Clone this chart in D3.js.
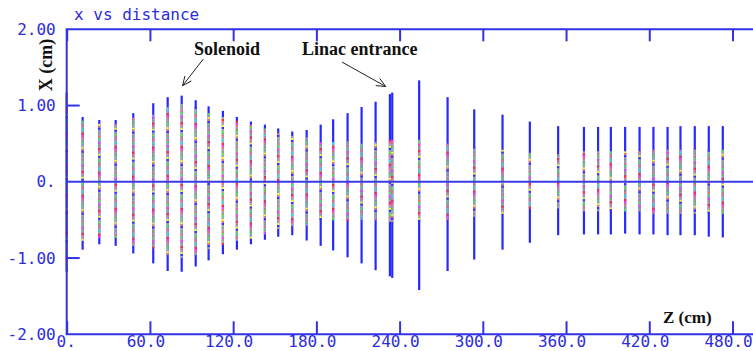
<!DOCTYPE html>
<html>
<head>
<meta charset="utf-8">
<script src="https://cdn.jsdelivr.net/npm/d3@7"></script>
<style>
  html, body { margin: 0; padding: 0; background: #ffffff; }
  svg { display: block; }
</style>
</head>
<body>
<svg id="chart" width="753" height="351"></svg>
<script>
// ---------------- data ----------------
const zPos = [0, 11.5, 23.5, 35.3, 48, 62.4, 72.8, 82.9, 93, 102.3, 112.6, 122.7, 132.8, 142.9, 152.5, 162.6, 173,
  183.1, 192.1, 202.5, 212.6, 222.7, 233, 234.7, 254.1, 274.6, 293.8, 314.2, 333.9, 354.3,
  372.9, 383.1, 392.3, 402.6, 413, 423, 433.2, 442.5, 452.8, 462.9, 473];
const xMax = [1.17, 0.85, 0.81, 0.81, 0.90, 1.03, 1.11, 1.13, 1.07, 0.99, 0.93, 0.85, 0.79, 0.75, 0.70, 0.66, 0.68,
  0.75, 0.82, 0.90, 0.98, 1.05, 1.15, 1.17, 1.33, 1.11, 0.95, 0.88, 0.79, 0.73,
  0.72, 0.72, 0.72, 0.72, 0.72, 0.72, 0.72, 0.73, 0.73, 0.73, 0.73];
const xMin = [-1.18, -0.89, -0.82, -0.84, -0.94, -1.07, -1.17, -1.18, -1.11, -1.03, -0.95, -0.89, -0.82, -0.76, -0.72, -0.70, -0.77,
  -0.84, -0.90, -0.99, -1.07, -1.16, -1.24, -1.26, -1.42, -1.17, -1.02, -0.89, -0.80, -0.70,
  -0.69, -0.69, -0.69, -0.68, -0.69, -0.69, -0.70, -0.70, -0.70, -0.72, -0.73];
// half-extent of the multi-coloured beam core
const xCore = [1.15, 0.80, 0.76, 0.76, 0.84, 0.88, 0.98, 1.02, 0.98, 0.90, 0.85, 0.80, 0.75, 0.70, 0.64, 0.60, 0.58,
  0.52, 0.52, 0.53, 0.50, 0.52, 0.55, 0.55, 0.55, 0.50, 0.46, 0.42, 0.38, 0.36,
  0.40, 0.40, 0.40, 0.40, 0.40, 0.42, 0.42, 0.42, 0.42, 0.42, 0.42];

const xTicks = [0, 60, 120, 180, 240, 300, 360, 420, 480];
const xTickLabels = ["0.", "60.0", "120.0", "180.0", "240.0", "300.0", "360.0", "420.0", "480.0"];
const yTicks = [2, 1, 0, -1, -2];
const yTickLabels = ["2.00", "1.00", "0.", "-1.00", "-2.00"];

const title = "x vs distance";
const xLabel = "Z (cm)";
const yLabel = "X (cm)";
const notes = [
  { text: "Solenoid", tx: 91.7, ty: 1.663, fx: 98.5, fy: 1.61, hx: 83.5, hy: 1.26 },
  { text: "Linac entrance", tx: 169.6, ty: 1.663, fx: 198.5, fy: 1.57, hx: 230, hy: 1.25 }
];

// colour texture for the particle core (hand-typed palette index sequence)
const palette = ["#ff40ff", "#ffff30", "#50f050", "#ff3030", "#a8a8a8", "#40e0e0", "#3434ff", "#f07878", "#98a878"];
const texture = [4, 7, 2, 4, 0, 8, 4, 3, 7, 4, 1, 6, 4, 2, 8, 7, 4, 5, 4, 3, 0, 7, 4, 8, 2, 4, 1, 7, 6, 4, 8];

// ---------------- drawing ----------------
const W = 753, H = 351;
const svg = d3.select("#chart");
const x = d3.scaleLinear().domain([0, 480]).range([66.7, 732.5]);
const y = d3.scaleLinear().domain([-2, 2]).range([334.3, 29.3]);

const axisColor = "#3232e6";
const textBlue = "#2c2cdc";
const mono = "'DejaVu Sans Mono', monospace";
const serif = "'Liberation Serif', 'Times New Roman', serif";

// beam lines
const beams = zPos.map((z, i) => ({ z, hi: xMax[i], lo: xMin[i], core: xCore[i], i }));
const gB = svg.append("g");
gB.selectAll("line.beam").data(beams).join("line")
  .attr("class", "beam")
  .attr("x1", d => x(d.z)).attr("x2", d => x(d.z))
  .attr("y1", d => y(d.hi)).attr("y2", d => y(d.lo))
  .attr("stroke", "#2828ff").attr("stroke-width", 2.2);

// coloured core segments
const seg = 2;
beams.forEach(d => {
  const top = y(Math.min(d.core, d.hi - 0.02));
  const bot = y(Math.max(-d.core, d.lo + 0.02));
  const n = Math.floor((bot - top) / seg);
  const segs = d3.range(n).map(j => ({ j, c: palette[texture[(j + d.i * 13) % texture.length]] }));
  gB.append("g").selectAll("line").data(segs).join("line")
    .attr("x1", x(d.z)).attr("x2", x(d.z))
    .attr("y1", s => top + s.j * seg).attr("y2", s => top + s.j * seg + seg)
    .attr("stroke", s => s.c).attr("stroke-width", 2.2);
});

// zero line
svg.append("line")
  .attr("x1", x(0)).attr("x2", W).attr("y1", y(0)).attr("y2", y(0))
  .attr("stroke", "#3a3ae6").attr("stroke-width", 2);

// frame
const frame = svg.append("g").attr("stroke", axisColor).attr("stroke-width", 2).attr("fill", "none");
frame.append("line").attr("x1", x(0)).attr("x2", x(0)).attr("y1", y(2)).attr("y2", y(-2));
frame.append("line").attr("x1", x(0) - 1).attr("x2", W).attr("y1", y(2)).attr("y2", y(2));
frame.append("line").attr("x1", x(0) - 1).attr("x2", W).attr("y1", y(-2)).attr("y2", y(-2));

// x axis (bottom) with inward ticks
const xAxisB = d3.axisBottom(x).tickValues(xTicks).tickSize(-13)
  .tickFormat((d, i) => xTickLabels[i]);
const gx = svg.append("g").attr("transform", `translate(0,${y(-2)})`).call(xAxisB);
gx.select(".domain").remove();
gx.selectAll(".tick line").attr("stroke", axisColor).attr("stroke-width", 2);
gx.selectAll(".tick text")
  .attr("fill", textBlue).attr("font-family", mono).attr("font-size", "16px")
  .attr("x", (d, i) => i === 0 ? -1 : -4.5).attr("y", 0).attr("dy", "13px");

// x axis (top) ticks
const xAxisT = d3.axisTop(x).tickValues(xTicks).tickSize(-12).tickFormat("");
const gxt = svg.append("g").attr("transform", `translate(0,${y(2)})`).call(xAxisT);
gxt.select(".domain").remove();
gxt.selectAll(".tick line").attr("stroke", axisColor).attr("stroke-width", 2);

// y axis
const yAxis = d3.axisLeft(y).tickValues(yTicks).tickSize(0).tickPadding(11)
  .tickFormat((d, i) => yTickLabels[i]);
const gy = svg.append("g").attr("transform", `translate(${x(0)},0)`).call(yAxis);
gy.select(".domain").remove();
gy.selectAll(".tick text")
  .attr("fill", textBlue).attr("font-family", mono).attr("font-size", "16px");
// inward ticks at +/-1
svg.append("g").selectAll("line").data([1, -1]).join("line")
  .attr("x1", x(0)).attr("x2", x(0) + 13).attr("y1", d => y(d)).attr("y2", d => y(d))
  .attr("stroke", axisColor).attr("stroke-width", 2);

// title
svg.append("text").attr("x", 74).attr("y", 20)
  .attr("fill", textBlue).attr("font-family", mono).attr("font-size", "16px").text(title);

// axis labels
svg.append("text").attr("transform", `translate(52,65) rotate(-90)`)
  .attr("text-anchor", "middle").attr("font-family", serif).attr("font-weight", "bold")
  .attr("font-size", "18px").attr("fill", "#111").text(yLabel);
svg.append("text").attr("x", 663).attr("y", 323)
  .attr("font-family", serif).attr("font-weight", "bold")
  .attr("font-size", "17px").attr("fill", "#111").text(xLabel);

// annotations with arrows
const gN = svg.append("g");
notes.forEach(n => {
  gN.append("text").attr("x", x(n.tx)).attr("y", y(n.ty))
    .attr("font-family", serif).attr("font-weight", "bold").attr("font-size", "18px")
    .attr("fill", "#111").text(n.text);
  const x1 = x(n.fx), y1 = y(n.fy), x2 = x(n.hx), y2 = y(n.hy);
  gN.append("line").attr("x1", x1).attr("y1", y1).attr("x2", x2).attr("y2", y2)
    .attr("stroke", "#222").attr("stroke-width", 1);
  const ang = Math.atan2(y2 - y1, x2 - x1);
  const L = 10, sp = 0.42;
  [ang + Math.PI - sp, ang + Math.PI + sp].forEach(a => {
    gN.append("line").attr("x1", x2).attr("y1", y2)
      .attr("x2", x2 + L * Math.cos(a)).attr("y2", y2 + L * Math.sin(a))
      .attr("stroke", "#222").attr("stroke-width", 1);
  });
});
</script>
</body>
</html>
